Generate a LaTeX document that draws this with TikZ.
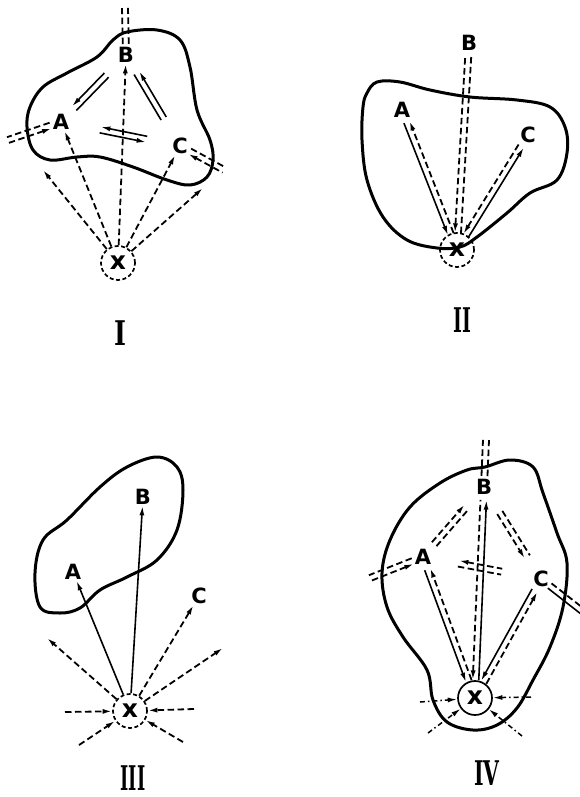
\documentclass[tikz,border=0pt]{standalone}
\usepackage{fontspec}
\usepackage{tikz}
\usetikzlibrary{arrows.meta,positioning,calc}
\newfontfamily\labfont{DejaVu Sans}
\newfontfamily\numfont{DejaVu Serif}
\tikzset{
  blob/.style ={line width=3pt,line join=round},
  sol/.style  ={line width=1.6pt},
  dsh/.style  ={line width=1.8pt,dash pattern=on 6.5pt off 3.5pt},
  ddot/.style ={line width=1.5pt,dash pattern=on 5pt off 3pt on 1.5pt off 3pt},
  tip/.style  ={-{Latex[length=9.5pt,width=5pt]}},
  tipb/.style ={{Latex[length=9.5pt,width=5pt]}-},
  lab/.style  ={font=\labfont\bfseries\fontsize{21}{21}\selectfont,inner sep=1pt},
  hub/.style  ={circle,draw,dashed,line width=1.7pt,dash pattern=on 4pt off 2.5pt,
                minimum size=34pt,inner sep=0pt,
                font=\labfont\bfseries\fontsize{25}{25}\selectfont},
  num/.style  ={font=\numfont\bfseries\fontsize{34}{34}\selectfont,inner sep=0pt},
}
% two parallel lines between #1 and #2, styles #3 and #4, shared options #5
\newcommand{\twin}[5]{%
  \draw[#5,#3] ($(#1)!3pt!90:(#2)$) -- ($(#2)!3pt!-90:(#1)$);
  \draw[#5,#4] ($(#1)!3pt!-90:(#2)$) -- ($(#2)!3pt!90:(#1)$);}

\begin{document}
\begin{tikzpicture}[x=1pt,y=-1pt]
\useasboundingbox (0,0) rectangle (579,797);

% ---- I ----
\node[hub] (X1) at (118,263) {x};
\node[lab] (A1) at (61,122) {A};
\node[lab] (B1) at (126,55) {B};
\node[lab] (C1) at (180,146) {C};
\coordinate (l1) at (43,170); \coordinate (r1) at (203,188);
\coordinate (tB1) at (125,8); \coordinate (tA1) at (8,140); \coordinate (tC1) at (224,170);
\draw[blob] plot[smooth cycle,tension=0.6] coordinates {(127,32) (157,30) (180,40) (190,67)
  (197,110) (210,140) (213,160) (207,177) (190,185) (167,180) (133,167) (100,157) (77,157)
  (50,160) (33,150) (27,127) (30,107) (43,87) (67,73) (97,57) (113,40)};
\foreach \t in {A1,B1,C1,l1,r1} \draw[dsh,tip] (X1) -- (\t);
\twin{A1.center}{B1.center}{sol,tipb}{sol}{shorten <=19pt,shorten >=28pt}
\twin{B1.center}{C1.center}{sol,tipb}{sol}{shorten <=21pt,shorten >=32pt}
\twin{A1.center}{C1.center}{sol,tipb}{sol,tip}{shorten <=40pt,shorten >=34pt}
\twin{B1.center}{tB1}{dsh}{dsh}{shorten <=11pt}
\twin{A1.center}{tA1}{dsh,tipb}{dsh}{shorten <=11pt}
\twin{C1.center}{tC1}{dsh}{dsh,tipb}{shorten <=11pt}
\node[num] (n1) at (120,333) {\scalebox{0.75}[1]{I}};

% ---- II ----
\node[lab] (A2) at (402,110) {A};
\node[lab] (B2) at (469,43) {B};
\node[lab] (C2) at (528,135) {C};
\draw[blob] plot[smooth cycle,tension=0.6] coordinates {(367,93) (377,82) (400,82) (430,90)
  (470,97) (517,100) (550,107) (565,127) (567,153) (557,180) (530,193) (507,213) (477,237)
  (460,247) (437,248) (407,240) (383,217) (367,180) (362,140) (363,107)};
\node[hub] (X2) at (457,250) {x};
\twin{X2.center}{A2.center}{sol,tipb}{dsh,tip}{shorten <=17pt,shorten >=13pt}
\twin{X2.center}{B2.center}{dsh,tipb}{dsh}{shorten <=17pt,shorten >=13pt}
\twin{X2.center}{C2.center}{dsh,tipb}{sol,tip}{shorten <=17pt,shorten >=13pt}
\node[num] (n2) at (462,320) {\scalebox{0.56}[1]{II}};

% ---- III ----
\node[hub] (X3) at (130,711) {x};
\node[lab] (A3) at (73,572) {A};
\node[lab] (B3) at (143,497) {B};
\node[lab] (C3) at (199,596) {C};
\coordinate (ul3) at (47,638); \coordinate (ur3) at (223,648);
\coordinate (w3) at (65,712); \coordinate (e3) at (194,709);
\coordinate (sw3) at (79,745); \coordinate (se3) at (183,742);
\draw[blob] plot[smooth cycle,tension=0.6] coordinates {(40,607) (35,573) (43,540) (67,520)
  (100,487) (127,467) (157,457) (177,467) (183,490) (177,530) (157,560) (127,577) (100,590)
  (80,608) (60,613)};
\draw[sol,tip] (X3) -- (A3);
\draw[sol,tip] (X3) -- (B3);
\foreach \t in {C3,ul3,ur3} \draw[dsh,tip] (X3) -- (\t);
\foreach \s in {w3,e3,sw3,se3} \draw[dsh,tip] (\s) -- (X3);
\node[num] (n3) at (133,778) {\scalebox{0.52}[1]{III}};

% ---- IV ----
\node[hub,solid] (X4) at (475,698) {x};
\node[lab] (A4) at (423,557) {A};
\node[lab] (B4) at (484,487) {B};
\node[lab] (C4) at (541,579) {C};
\coordinate (tB4) at (486,440); \coordinate (tA4) at (370,578); \coordinate (tC4) at (582,611);
\coordinate (w4) at (420,702); \coordinate (e4) at (531,697);
\coordinate (sw4) at (428,733); \coordinate (se4) at (522,736);
\draw[blob] plot[smooth cycle,tension=0.6] coordinates {(485,467) (510,460) (533,467) (543,493)
  (557,533) (567,563) (563,607) (550,647) (533,680) (517,708) (497,725) (473,730) (447,722)
  (433,700) (427,670) (403,637) (387,607) (382,573) (390,540) (410,507) (440,483) (467,470)};
\twin{X4.center}{A4.center}{sol,tipb}{dsh,tip}{shorten <=18pt,shorten >=13pt}
\twin{X4.center}{B4.center}{dsh,tipb}{sol,tip}{shorten <=18pt,shorten >=13pt}
\twin{X4.center}{C4.center}{sol,tipb}{dsh,tip}{shorten <=18pt,shorten >=13pt}
\twin{A4.center}{B4.center}{dsh,tip}{dsh}{shorten <=17pt,shorten >=26pt}
\twin{B4.center}{C4.center}{dsh}{dsh,tip}{shorten <=30pt,shorten >=26pt}
\twin{A4.center}{C4.center}{dsh,tipb}{dsh}{shorten <=36pt,shorten >=40pt}
\twin{B4.center}{tB4}{dsh}{dsh}{shorten <=11pt}
\twin{A4.center}{tA4}{dsh,tipb}{dsh}{shorten <=11pt}
\twin{C4.center}{tC4}{dsh}{sol}{shorten <=11pt}
\foreach \s in {w4,e4,sw4,se4} \draw[ddot,tip] (\s) -- (X4);
\node[num] (n4) at (487,773) {\scalebox{0.6}[1]{IV}};
\end{tikzpicture}
\end{document}
